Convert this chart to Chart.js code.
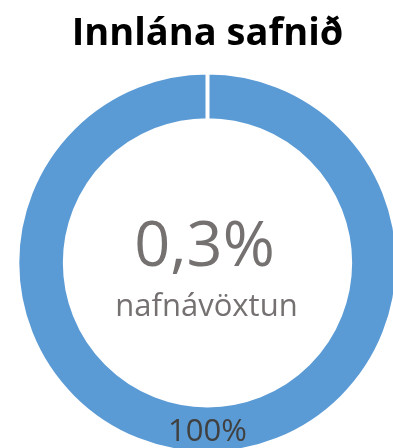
<!DOCTYPE html>
<html>
<head>
<meta charset="utf-8">
<script src="https://cdn.jsdelivr.net/npm/chart.js@4/dist/chart.umd.min.js"></script>
<style>
  html, body { margin: 0; padding: 0; background: #fff; overflow: hidden; }
  #wrap { position: relative; width: 415px; height: 455px; }
</style>
</head>
<body>
<div id="wrap"><canvas id="myChart"></canvas></div>
<script>
const title = 'Innlána safnið'
const labels = ['Innlán']
const shares = [100]
const rate = 0.3
const rateLabel = 'nafnávöxtun'

const BLUE = '#5B9BD5'
const GREY = '#767171'

// text in the hole of the ring
const centerText = {
  id: 'centerText',
  afterDatasetsDraw (chart) {
    const arc = chart.getDatasetMeta(0).data[0]
    const { x, y } = arc
    const c = chart.ctx
    c.save()
    c.fillStyle = GREY
    c.textAlign = 'center'
    c.textBaseline = 'alphabetic'
    c.font = '63px "Open Sans"'
    c.fillText(rate.toFixed(1).replace('.', ',') + '%', x - 3, y + 3)
    c.font = '31px "Open Sans"'
    c.fillText(rateLabel, x - 1, y + 53)
    c.restore()
  }
}

// percentage label in the middle of each slice
const sliceLabels = {
  id: 'sliceLabels',
  afterDatasetsDraw (chart) {
    const meta = chart.getDatasetMeta(0)
    const data = chart.data.datasets[0].data
    const total = data.reduce((s, v) => s + v, 0)
    const c = chart.ctx
    c.save()
    c.fillStyle = '#404040'
    c.textAlign = 'center'
    c.textBaseline = 'alphabetic'
    c.font = '31px "Open Sans"'
    meta.data.forEach((arc, i) => {
      const p = arc.tooltipPosition()
      c.fillText(Math.round(data[i] / total * 100) + '%', p.x, p.y + 12)
    })
    c.restore()
  }
}

const ctx = document.getElementById('myChart')
const chart = new Chart(ctx, {
  type: 'doughnut',
  data: {
    labels: labels,
    datasets: [{
      data: shares,
      backgroundColor: BLUE,
      borderColor: '#fff',
      borderWidth: 4
    }]
  },
  options: {
    responsive: true,
    maintainAspectRatio: false,
    animation: false,
    cutout: '75%',
    layout: { padding: 0 },
    plugins: {
      legend: { display: false },
      tooltip: { enabled: false },
      title: {
        display: true,
        text: title,
        color: '#000',
        font: { family: 'Open Sans', size: 38, weight: 'bold', lineHeight: 1.2 },
        padding: { top: 11, bottom: 14 }
      }
    }
  },
  plugins: [centerText, sliceLabels]
})
</script>
</body>
</html>
